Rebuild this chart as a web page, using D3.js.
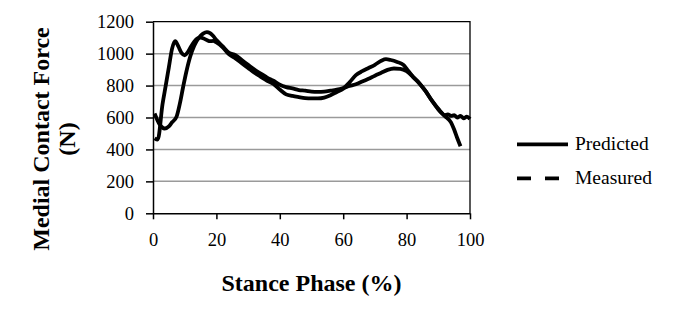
<!DOCTYPE html>
<html lang="en">
<head>
<meta charset="utf-8">
<title>Medial Contact Force</title>
<script src="https://cdn.jsdelivr.net/npm/d3@7"></script>
<style>
  body { margin: 0; background: #fff; }
  text { font-family: "Liberation Serif", "Times New Roman", serif; fill: #000; }
</style>
</head>
<body>
<script>
// stance phase (%) and force (N)
var predX = [0.5, 1.5, 3, 4, 5, 6, 7, 8, 9, 10, 11, 12, 13, 14, 15, 16, 17, 18, 19, 20, 22, 24, 26, 28, 30, 32, 34, 36, 38, 40, 42, 44, 46, 48, 50, 52, 54, 56, 58, 60, 62, 64, 66, 68, 70, 72, 73.5, 75, 77, 79, 80, 82, 84, 86, 88, 90, 92, 94, 95, 96, 97];
var predY = [470, 462, 683, 798, 914, 1030, 1078, 1045, 1005, 990, 1010, 1045, 1075, 1095, 1100, 1095, 1085, 1078, 1080, 1070, 1040, 995, 970, 940, 910, 880, 855, 830, 810, 775, 745, 735, 728, 722, 720, 720, 725, 740, 760, 780, 820, 865, 890, 910, 930, 955, 965, 960, 948, 930, 905, 855, 815, 765, 705, 650, 610, 570, 525, 470, 420];

var measX = [0.5, 2, 3.7, 5, 6, 7.4, 8.5, 9.5, 10.5, 11.7, 13, 14.5, 15.8, 17, 18, 19, 20, 22, 24, 26, 28, 30, 32, 34, 36, 38, 40, 42, 44, 46, 48, 50, 52, 54, 56, 58, 60, 62, 64, 66, 68, 70, 72, 74, 76, 78, 80, 82, 84, 86, 88, 90, 91, 92, 93, 94, 95, 96, 97, 98, 99, 100];
var measY = [625, 560, 531, 545, 570, 604, 690, 791, 885, 979, 1050, 1100, 1125, 1135, 1128, 1110, 1085, 1045, 1005, 990, 960, 930, 900, 875, 850, 830, 805, 790, 782, 772, 768, 762, 760, 762, 768, 775, 785, 797, 808, 825, 843, 862, 880, 898, 907, 905, 890, 855, 815, 765, 705, 655, 630, 615, 620, 610, 615, 600, 610, 595, 605, 590];

var xTicks = [0, 20, 40, 60, 80, 100];
var yTicks = [0, 200, 400, 600, 800, 1000, 1200];
var seriesNames = ["Predicted", "Measured"];

var w = 674, h = 322;
var plotLeft = 153, plotRight = 470, plotTop = 21.7, plotBottom = 213.3;

var svg = d3.select("body").append("svg")
    .attr("width", w)
    .attr("height", h);

var xScale = d3.scaleLinear().domain([0, 100]).range([plotLeft, plotRight]);
var yScale = d3.scaleLinear().domain([0, 1200]).range([plotBottom, plotTop]);

// grid lines
svg.selectAll("line.grid")
    .data(yTicks.filter(function(d) { return d > 0 && d < 1200; }))
    .enter()
    .append("line")
    .attr("class", "grid")
    .attr("x1", plotLeft).attr("x2", plotRight)
    .attr("y1", function(d) { return yScale(d); })
    .attr("y2", function(d) { return yScale(d); })
    .attr("stroke", "#9a9a9a")
    .attr("stroke-width", 1.5);

// top and right border
svg.append("path")
    .attr("d", "M" + plotLeft + "," + yScale(1200) + "H" + plotRight + "V" + plotBottom)
    .attr("fill", "none")
    .attr("stroke", "#000")
    .attr("stroke-width", 1.3);

// lines
var line = d3.line()
    .x(function(d) { return xScale(d[0]); })
    .y(function(d) { return yScale(d[1]); })
    .curve(d3.curveMonotoneX);

var pred = predX.map(function(x, i) { return [x, predY[i]]; });
var meas = measX.map(function(x, i) { return [x, measY[i]]; });

[pred, meas].forEach(function(s) {
    svg.append("path")
        .datum(s)
        .attr("d", line)
        .attr("fill", "none")
        .attr("stroke", "#000")
        .attr("stroke-width", 3.8)
        .attr("stroke-linejoin", "round");
});

// axes
var xAxis = d3.axisBottom(xScale).tickValues(xTicks).tickSize(6).tickPadding(12).tickSizeOuter(0);
var yAxis = d3.axisLeft(yScale).tickValues(yTicks).tickFormat(d3.format("d"))
    .tickSize(7).tickPadding(12).tickSizeOuter(0);

var gx = svg.append("g")
    .attr("transform", "translate(0," + plotBottom + ")")
    .call(xAxis);
var gy = svg.append("g")
    .attr("transform", "translate(" + plotLeft + ",0)")
    .call(yAxis);

[gx, gy].forEach(function(g) {
    g.selectAll("path, line").attr("stroke", "#000").attr("stroke-width", 1.5);
    g.selectAll("text")
        .attr("font-family", "Liberation Serif, serif")
        .attr("font-size", 18.5)
        .attr("fill", "#000");
});
gy.selectAll("text").attr("dy", "0.33em");
gx.selectAll("text").attr("dy", "0.8em");

// axis titles
svg.append("text")
    .attr("x", (plotLeft + plotRight) / 2)
    .attr("y", 291)
    .attr("text-anchor", "middle")
    .attr("font-size", 24)
    .attr("font-weight", "bold")
    .text("Stance Phase (%)");

var yt = svg.append("text")
    .attr("transform", "translate(49,139) rotate(-90)")
    .attr("text-anchor", "middle")
    .attr("font-size", 24)
    .attr("font-weight", "bold");
yt.append("tspan").attr("x", 0).attr("y", 0).text("Medial Contact Force");
yt.append("tspan").attr("x", 0).attr("y", 26).text("(N)");

// legend
var legend = svg.selectAll("g.legend")
    .data(seriesNames)
    .enter()
    .append("g")
    .attr("class", "legend")
    .attr("transform", function(d, i) { return "translate(517," + (144.3 + i * 34) + ")"; });

legend.append("line")
    .attr("x1", 0).attr("x2", function(d, i) { return i === 0 ? 51 : 42; })
    .attr("y1", 0).attr("y2", 0)
    .attr("stroke", "#000")
    .attr("stroke-width", 3.8)
    .attr("stroke-dasharray", function(d, i) { return i === 0 ? null : "14,14"; });

legend.append("text")
    .attr("x", 58)
    .attr("y", 6)
    .attr("font-size", 19.5)
    .text(function(d) { return d; });
</script>
</body>
</html>
